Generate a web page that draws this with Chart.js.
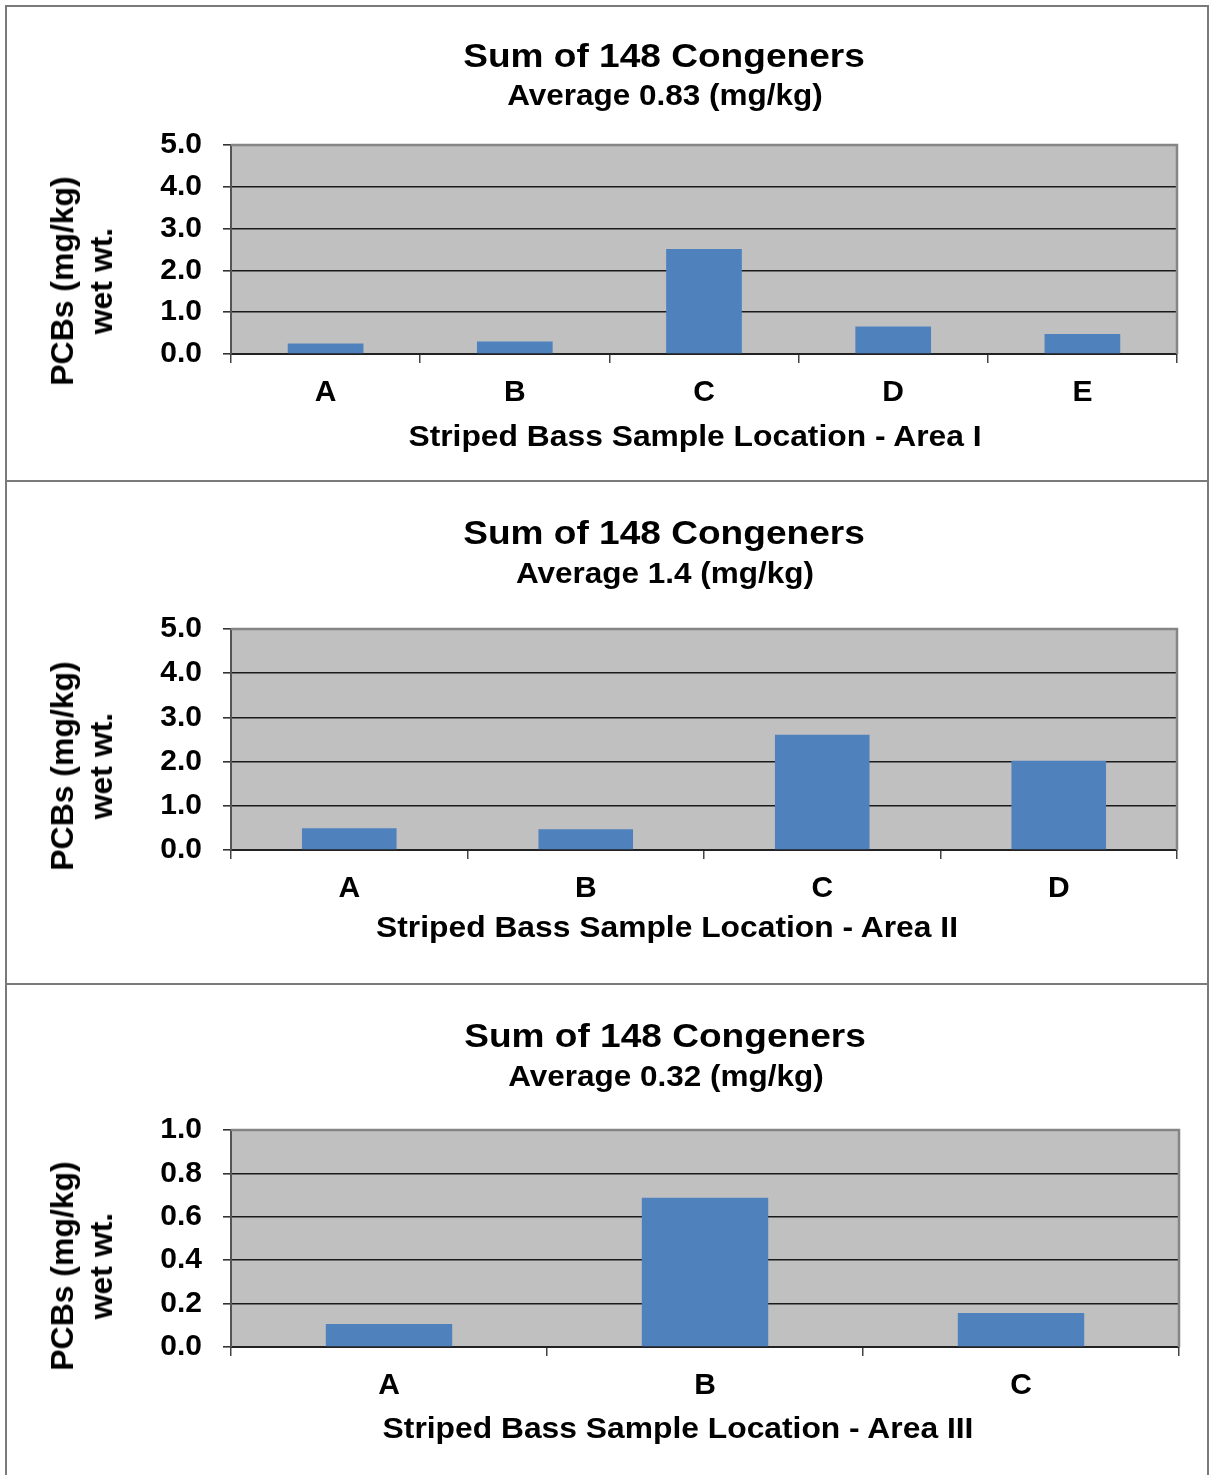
<!DOCTYPE html>
<html>
<head>
<meta charset="utf-8">
<script src="https://cdn.jsdelivr.net/npm/chart.js@4.4.0/dist/chart.umd.min.js"></script>
<style>
html, body { margin: 0; padding: 0; background: #fff; overflow: hidden; }
#page { position: relative; width: 1209px; height: 1475px; font-family: "Liberation Sans", Arial, sans-serif; font-weight: bold; color: #000; }
.panel { position: absolute; box-sizing: border-box; border: 2px solid #7a7a7a; background: #fff; }
canvas { position: absolute; left: 0; }
.txt { position: absolute; white-space: nowrap; line-height: 1; }
.ytitle { position: absolute; width: 300px; height: 78px; line-height: 39px; text-align: center; white-space: nowrap; }
</style>
</head>
<body>
<div id="page"></div>
<script>
// values (mg/kg wet wt.)
const areaOneLocations = ['A', 'B', 'C', 'D', 'E'];
const areaOneValues = [0.25, 0.30, 2.51, 0.66, 0.48];

const areaTwoLocations = ['A', 'B', 'C', 'D'];
const areaTwoValues = [0.49, 0.47, 2.61, 2.02];

const areaThreeLocations = ['A', 'B', 'C'];
const areaThreeValues = [0.106, 0.688, 0.157];

const wideTicks = [0, 1, 2, 3, 4, 5];
const narrowTicks = [0, 0.2, 0.4, 0.6, 0.8, 1.0];

const chartTitle = 'Sum of 148 Congeners';
const averageLabels = ['Average 0.83 (mg/kg)', 'Average 1.4 (mg/kg)', 'Average 0.32 (mg/kg)'];
const xTitles = ['Striped Bass Sample Location - Area I', 'Striped Bass Sample Location - Area II', 'Striped Bass Sample Location - Area III'];
const yTitle = ['PCBs (mg/kg)', 'wet wt.'];

const page = document.getElementById('page');

// panel frames
[[5, 478], [480, 506], [983, 520]].forEach(function (p) {
    const d = document.createElement('div');
    d.className = 'panel';
    d.style.left = '5px';
    d.style.width = '1204px';
    d.style.top = p[0] + 'px';
    d.style.height = p[1] + 'px';
    page.appendChild(d);
});

function addText(text, cx, cy, size, stretch) {
    const d = document.createElement('div');
    d.className = 'txt';
    d.textContent = text;
    d.style.fontSize = size + 'px';
    d.style.left = cx + 'px';
    d.style.top = (cy - size / 2) + 'px';
    d.style.transform = 'translateX(-50%) scaleX(' + stretch + ')';
    page.appendChild(d);
}

function addYTitle(lines, cx, cy) {
    const d = document.createElement('div');
    d.className = 'ytitle';
    d.innerHTML = lines.join('<br>');
    d.style.fontSize = '31px';
    d.style.left = (cx - 150) + 'px';
    d.style.top = (cy - 39) + 'px';
    d.style.transform = 'rotate(-90deg) scaleX(1.03)';
    page.appendChild(d);
}

const plotBackground = {
    id: 'plotBackground',
    beforeDraw(chart) {
        const a = chart.chartArea;
        const ctx = chart.ctx;
        ctx.save();
        ctx.fillStyle = '#c0c0c0';
        ctx.fillRect(a.left, a.top, a.right - a.left, a.bottom - a.top);
        ctx.restore();
    },
    afterDraw(chart) {
        const a = chart.chartArea;
        const ctx = chart.ctx;
        ctx.save();
        ctx.strokeStyle = '#858585';
        ctx.lineWidth = 2.5;
        ctx.beginPath();
        ctx.moveTo(a.left, a.top);
        ctx.lineTo(a.right, a.top);
        ctx.lineTo(a.right, a.bottom);
        ctx.stroke();
        ctx.restore();
    }
};

function makeChart(opt) {
    const canvas = document.createElement('canvas');
    canvas.width = 1209;
    canvas.height = opt.height;
    canvas.style.top = opt.top + 'px';
    page.appendChild(canvas);

    const yMax = opt.ticks[opt.ticks.length - 1];

    new Chart(canvas, {
        type: 'bar',
        data: {
            labels: opt.labels,
            datasets: [{
                data: opt.values,
                backgroundColor: '#4f81bd',
                borderWidth: 0,
                categoryPercentage: 1.0,
                barPercentage: 0.4
            }]
        },
        options: {
            responsive: false,
            animation: false,
            layout: {
                padding: { left: 0, right: 1209 - opt.right, top: opt.plotTop, bottom: opt.height - opt.plotBottom - 60 }
            },
            plugins: {
                legend: { display: false },
                tooltip: { enabled: false },
                title: { display: false }
            },
            scales: {
                x: {
                    offset: true,
                    afterFit: function (scale) { scale.height = 60; },
                    grid: {
                        offset: true,
                        drawOnChartArea: false,
                        drawTicks: true,
                        tickLength: 9,
                        tickColor: '#444',
                        lineWidth: 1.5
                    },
                    border: { display: true, color: '#222', width: 2 },
                    ticks: {
                        color: '#000',
                        padding: 12,
                        font: { family: 'Liberation Sans', weight: 'bold', size: 30 }
                    }
                },
                y: {
                    min: 0,
                    max: yMax,
                    afterFit: function (scale) { scale.width = 231; },
                    afterBuildTicks: function (scale) {
                        scale.ticks = opt.ticks.map(function (v) { return { value: v }; });
                    },
                    grid: {
                        color: function (c) { return c.tick && c.tick.value === yMax ? '#858585' : '#1a1a1a'; },
                        lineWidth: 1.6,
                        drawTicks: true,
                        tickLength: 8,
                        tickColor: '#333'
                    },
                    border: { display: true, color: '#555', width: 2 },
                    ticks: {
                        color: '#000',
                        padding: 21,
                        font: { family: 'Liberation Sans', weight: 'bold', size: 30 },
                        callback: function (v) { return Number(v).toFixed(1); }
                    }
                }
            }
        },
        plugins: [plotBackground]
    });
}

// Area I
makeChart({ top: 0, height: 480, plotTop: 145, plotBottom: 354, right: 1177,
    labels: areaOneLocations, values: areaOneValues, ticks: wideTicks });
addText(chartTitle, 664, 55, 34, 1.09);
addText(averageLabels[0], 665, 95, 30, 1.05);
addText(xTitles[0], 695, 436, 30, 1.06);
addYTitle(yTitle, 82, 281);

// Area II
makeChart({ top: 481, height: 504, plotTop: 148, plotBottom: 369, right: 1177,
    labels: areaTwoLocations, values: areaTwoValues, ticks: wideTicks });
addText(chartTitle, 664, 532, 34, 1.09);
addText(averageLabels[1], 665, 573, 30, 1.05);
addText(xTitles[1], 667, 927, 30, 1.06);
addYTitle(yTitle, 82, 766);

// Area III
makeChart({ top: 985, height: 490, plotTop: 145, plotBottom: 362, right: 1179,
    labels: areaThreeLocations, values: areaThreeValues, ticks: narrowTicks });
addText(chartTitle, 665, 1035, 34, 1.09);
addText(averageLabels[2], 666, 1076, 30, 1.05);
addText(xTitles[2], 678, 1428, 30, 1.06);
addYTitle(yTitle, 82, 1266);
</script>
</body>
</html>
